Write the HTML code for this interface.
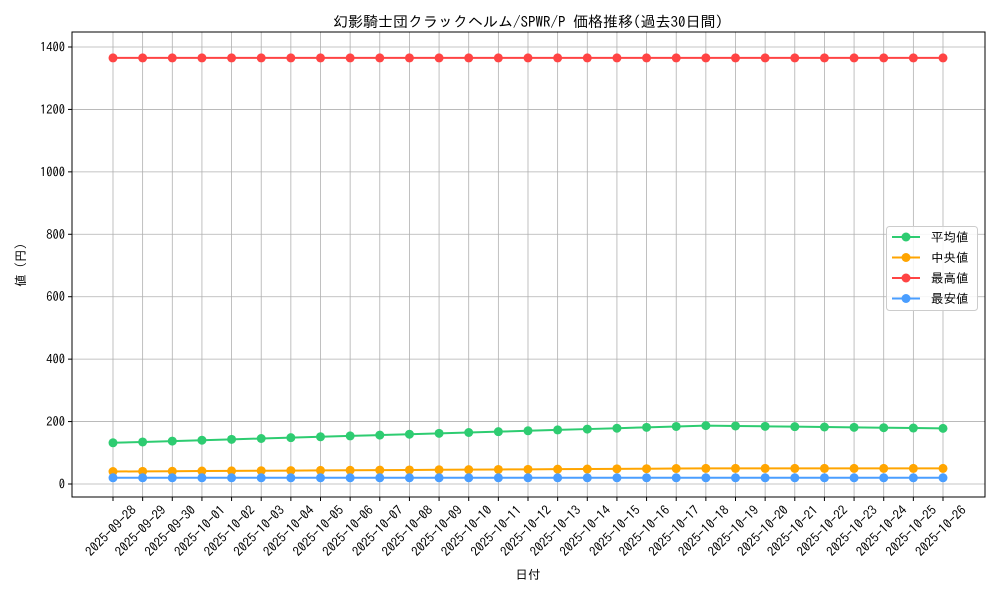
<!DOCTYPE html><html><head><meta charset="utf-8"><style>body{margin:0;background:#fff}svg{font-family:"IPAGothic","Noto Sans CJK JP",sans-serif}</style></head><body>
<svg id="s" width="1000" height="600" xmlns="http://www.w3.org/2000/svg"></svg>
<script>
const s=document.getElementById('s');let h='';
const L=72,R=985,T=32,B=497;
const y=v=>484-v*(437/1400);
const N=29,x0=113,dx=(943-113)/28;
h+=`<text x="528" y="27" font-size="15" text-anchor="middle">幻影騎士団クラックヘルム/SPWR/P 価格推移(過去30日間)</text>`;
for(let v=0;v<=1400;v+=200){const Y=y(v);h+=`<line x1="${L}" x2="${R}" y1="${Y}" y2="${Y}" stroke="#b0b0b0" stroke-width="0.8"/><line x1="${L-4}" x2="${L}" y1="${Y}" y2="${Y}" stroke="#000"/><text x="${L-7}" y="${Y+4.5}" font-size="12.5" text-anchor="end">${v}</text>`;}
const dates=[];const d=new Date(Date.UTC(2025,8,28));
for(let i=0;i<N;i++){const t=new Date(d.getTime()+i*864e5);dates.push(t.toISOString().slice(0,10));}
dates.forEach((t,i)=>{const X=x0+i*dx;h+=`<line x1="${X}" x2="${X}" y1="${T}" y2="${B}" stroke="#b0b0b0" stroke-width="0.8"/><line x1="${X}" x2="${X}" y1="${B}" y2="${B+4}" stroke="#000"/><text transform="translate(${X+24},${B+14}) rotate(-45)" font-size="13" text-anchor="end">${t}</text>`;});
h+=`<rect x="${L}" y="${T}" width="${R-L}" height="${B-T}" fill="none" stroke="#000"/>`;
h+=`<text x="528" y="579" font-size="12.5" text-anchor="middle">日付</text>`;
h+=`<text transform="translate(25,265) rotate(-90)" font-size="12.5" text-anchor="middle">値 (円)</text>`;
const avg=[],med=[],mx=[],mn=[];
for(let i=0;i<N;i++){avg.push(i<=20?132+i*2.75:187-(i-20)*1.1);med.push(40+Math.min(i,20)*0.5);mx.push(1365);mn.push(20);}
const ser=[[avg,'#2ecc71'],[med,'#ffa500'],[mx,'#ff4444'],[mn,'#4a9eff']];
ser.forEach(([a,c])=>{h+=`<polyline fill="none" stroke="${c}" stroke-width="2" points="${a.map((v,i)=>(x0+i*dx)+','+y(v)).join(' ')}"/>`;a.forEach((v,i)=>h+=`<circle cx="${x0+i*dx}" cy="${y(v)}" r="4.5" fill="${c}"/>`);});
h+=`<rect x="886.5" y="226.5" width="91" height="84" rx="3" fill="#fff" fill-opacity="0.85" stroke="#ccc"/>`;
[['平均値','#2ecc71'],['中央値','#ffa500'],['最高値','#ff4444'],['最安値','#4a9eff']].forEach(([n,c],i)=>{const Y=237+i*20.5;h+=`<line x1="892" x2="920" y1="${Y}" y2="${Y}" stroke="${c}" stroke-width="2"/><circle cx="906" cy="${Y}" r="4.5" fill="${c}"/><text x="931" y="${Y+4.5}" font-size="12.5">${n}</text>`;});
s.innerHTML=h;
</script></body></html>
